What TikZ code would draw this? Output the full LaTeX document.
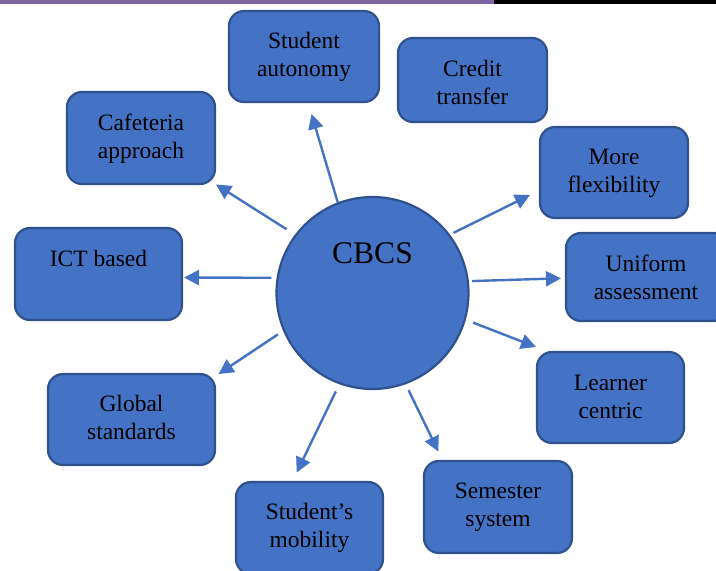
\documentclass[tikz,border=0pt]{standalone}
\usepackage{fontspec}
\setmainfont{Liberation Serif}
\usetikzlibrary{arrows.meta}
\definecolor{boxfill}{HTML}{4472C4}
\definecolor{boxline}{HTML}{2F528F}
\definecolor{arrcol}{HTML}{4472C4}
\definecolor{barpurple}{HTML}{8064A2}
\tikzset{
  box/.style={draw=boxline, fill=boxfill, line width=2.2pt, rounded corners=15pt, inner sep=0pt, outer sep=0pt},
  lbl/.style={anchor=north, align=center, inner sep=0pt, outer sep=0pt, text=black, font=\fontsize{23.5}{28}\selectfont},
  arr/.style={draw=arrcol, line width=2.4pt, -{Triangle[length=15pt,width=15pt]}},
  bigc/.style={circle, draw=boxline, fill=boxfill, line width=2.2pt, minimum size=192pt, inner sep=0pt, outer sep=1.1pt}
}
\begin{document}
\begin{tikzpicture}[x=1pt,y=-1pt]
\useasboundingbox (0,0) rectangle (716,571);
\begin{scope}
\clip (0,0) rectangle (716,571);
% top bar
\fill[barpurple] (0,0) rectangle (494,4);
\fill[black] (494,0) rectangle (716,4);

% central circle
\node[bigc] (cbcs) at (372.5,293) {};
\node[anchor=base, inner sep=0pt, font=\fontsize{31.5}{36}\selectfont] (cbcs-t) at (372.5,263) {CBCS};

% boxes
\node[box, minimum width=150pt, minimum height=91pt] (sa) at (304,56.5) {};
\node[lbl] (sa-t) at (304,29) {\strut Student\\autonomy};

\node[box, minimum width=149pt, minimum height=84pt] (ct) at (472.5,80) {};
\node[lbl] (ct-t) at (472.5,57) {\strut Credit\\transfer};

\node[box, minimum width=148pt, minimum height=91pt] (mf) at (614,172.5) {};
\node[lbl] (mf-t) at (614,145) {\strut More\\flexibility};

\node[box, minimum width=148pt, minimum height=92pt] (ca) at (141,138) {};
\node[lbl] (ca-t) at (141,111) {\strut Cafeteria\\approach};

\node[box, minimum width=167pt, minimum height=92pt] (ict) at (98.5,274) {};
\node[lbl] (ict-t) at (98.5,247) {\strut ICT based};

\node[box, minimum width=163pt, minimum height=88pt] (ua) at (647.5,277) {};
\node[lbl] (ua-t) at (646,252) {\strut Uniform\\assessment};

\node[box, minimum width=147pt, minimum height=91pt] (lc) at (610.5,397.5) {};
\node[lbl] (lc-t) at (610.5,371) {\strut Learner\\centric};

\node[box, minimum width=167pt, minimum height=91pt] (gs) at (131.5,419.5) {};
\node[lbl] (gs-t) at (131.5,392) {\strut Global\\standards};

\node[box, minimum width=147pt, minimum height=92pt] (sm) at (309.5,528) {};
\node[lbl] (sm-t) at (309.5,500) {\strut Student’s\\mobility};

\node[box, minimum width=148pt, minimum height=92pt] (ss) at (498,507) {};
\node[lbl] (ss-t) at (498,479) {\strut Semester\\system};

% arrow tips
\coordinate (tsa) at (311.5,114);
\coordinate (tca) at (216,184.5);
\coordinate (tict) at (184,277.5);
\coordinate (tgs) at (218.5,374);
\coordinate (tsm) at (296.7,472.5);
\coordinate (tss) at (438.3,451.5);
\coordinate (tlc) at (536,347);
\coordinate (tua) at (561,278.3);
\coordinate (tmf) at (530,195);

% arrows
\draw[arr] (cbcs.111.4) -- (tsa);
\draw[arr, shorten <=9.8pt] (cbcs.143) -- (tca);
\draw[arr, shorten <=5.2pt] (cbcs.171.8) -- (tict);
\draw[arr, shorten <=6.3pt] (cbcs.203.8) -- (tgs);
\draw[arr, shorten <=8pt] (cbcs.250.6) -- (tsm);
\draw[arr, shorten <=6.6pt] (cbcs.290.1) -- (tss);
\draw[arr, shorten <=7.8pt] (cbcs.344.2) -- (tlc);
\draw[arr, shorten <=3.3pt] (cbcs.7.4) -- (tua);
\draw[arr, shorten <=3.9pt] (cbcs.37.8) -- (tmf);
\end{scope}
\end{tikzpicture}
\end{document}
